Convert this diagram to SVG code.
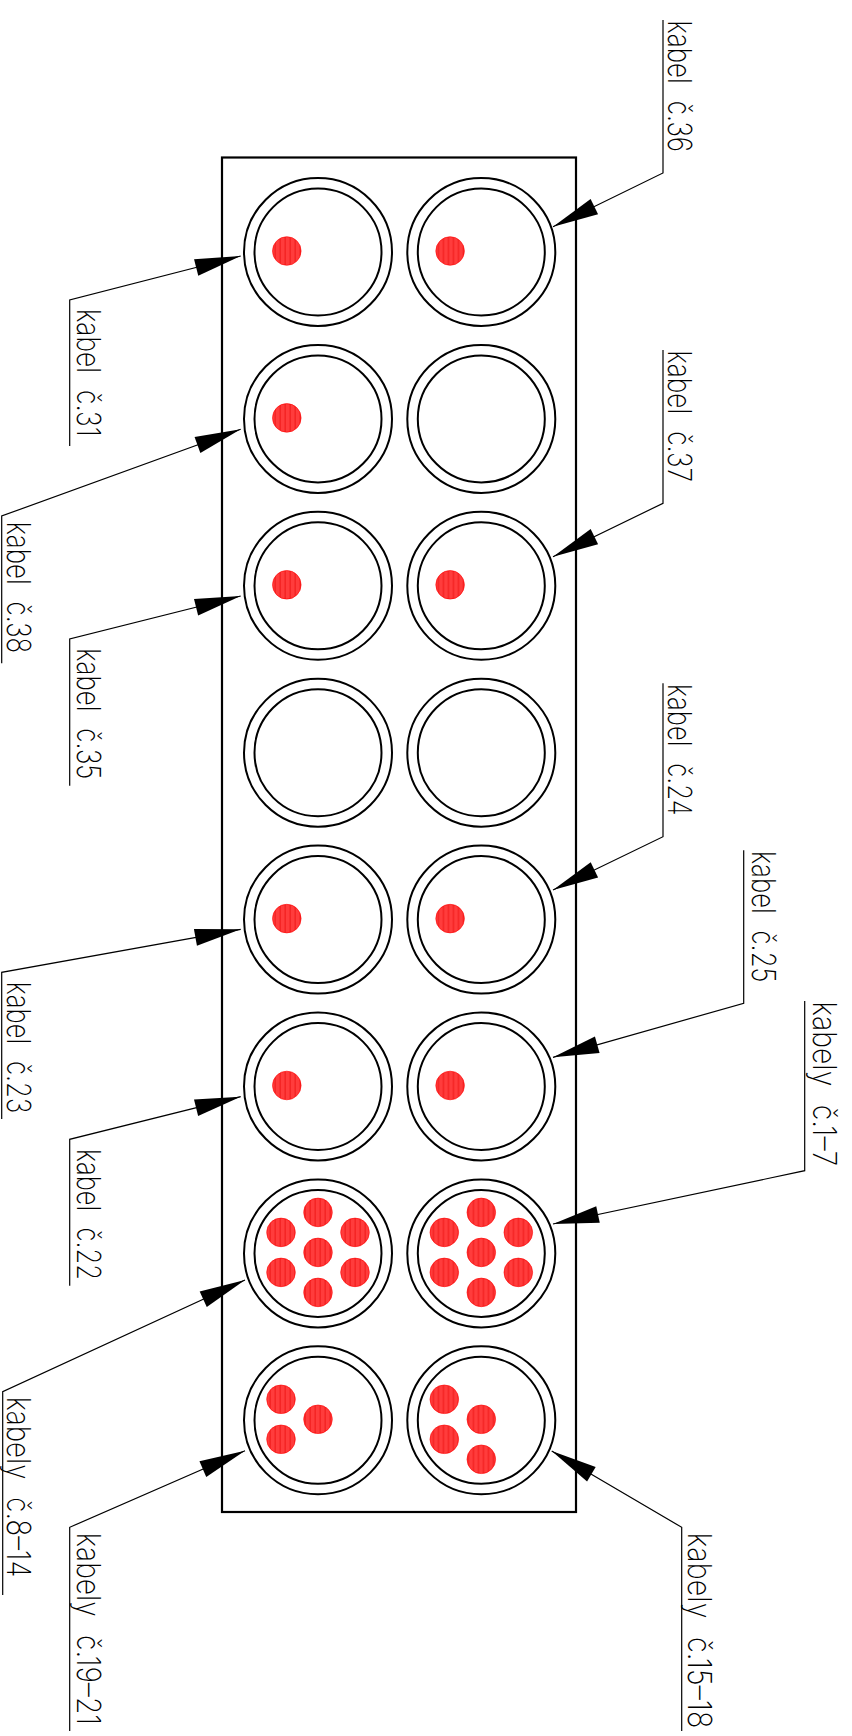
<svg xmlns="http://www.w3.org/2000/svg" width="852" height="1736" viewBox="0 0 852 1736">
<style>
.o{fill:none;stroke:#000;stroke-width:2}
.d{fill:url(#st);stroke:#f00;stroke-width:.6}
.l{fill:none;stroke:#000;stroke-width:1.2;marker-start:url(#ah)}
text{font-family:"Inter","Open Sans","Liberation Sans",sans-serif;font-weight:200;font-size:33px;word-spacing:12px;fill:#000}
</style>
<defs>
<pattern id="st" patternUnits="userSpaceOnUse" width="5" height="30"><rect width="5" height="30" fill="#ff3c3c"/><rect x="1.5" width="1.4" height="30" fill="#f42222"/></pattern>
<marker id="ah" markerUnits="userSpaceOnUse" viewBox="0 -10 48 20" markerWidth="48" markerHeight="20" refX="0" refY="0" orient="auto"><path d="M0 0L46 -8.5L46 8.5Z" fill="#000"/></marker>
<g id="ring"><circle class="o" r="74"/><circle class="o" r="63.5"/></g>
</defs>
<rect id="frame" x="222" y="157.5" width="354" height="1354.5" fill="none" stroke="#000" stroke-width="2.2"/>
<g id="cell-r1-c1" transform="translate(318 252)"><use href="#ring"/><circle class="d" cx="-31.2" cy="-1" r="14.3"/></g>
<g id="cell-r1-c2" transform="translate(481.3 252)"><use href="#ring"/><circle class="d" cx="-31.2" cy="-1" r="14.3"/></g>
<g id="cell-r2-c1" transform="translate(318 418.9)"><use href="#ring"/><circle class="d" cx="-31.2" cy="-1" r="14.3"/></g>
<g id="cell-r2-c2" transform="translate(481.3 418.9)"><use href="#ring"/></g>
<g id="cell-r3-c1" transform="translate(318 585.8)"><use href="#ring"/><circle class="d" cx="-31.2" cy="-1" r="14.3"/></g>
<g id="cell-r3-c2" transform="translate(481.3 585.8)"><use href="#ring"/><circle class="d" cx="-31.2" cy="-1" r="14.3"/></g>
<g id="cell-r4-c1" transform="translate(318 752.7)"><use href="#ring"/></g>
<g id="cell-r4-c2" transform="translate(481.3 752.7)"><use href="#ring"/></g>
<g id="cell-r5-c1" transform="translate(318 919.6)"><use href="#ring"/><circle class="d" cx="-31.2" cy="-1" r="14.3"/></g>
<g id="cell-r5-c2" transform="translate(481.3 919.6)"><use href="#ring"/><circle class="d" cx="-31.2" cy="-1" r="14.3"/></g>
<g id="cell-r6-c1" transform="translate(318 1086.5)"><use href="#ring"/><circle class="d" cx="-31.2" cy="-1" r="14.3"/></g>
<g id="cell-r6-c2" transform="translate(481.3 1086.5)"><use href="#ring"/><circle class="d" cx="-31.2" cy="-1" r="14.3"/></g>
<g id="cell-r7-c1" transform="translate(318 1253.4)"><use href="#ring"/><circle class="d" cy="-1" r="14.3"/><circle class="d" cy="-41" r="14.3"/><circle class="d" cy="39" r="14.3"/><circle class="d" cx="-37" cy="-21" r="14.3"/><circle class="d" cx="-37" cy="19" r="14.3"/><circle class="d" cx="37" cy="-21" r="14.3"/><circle class="d" cx="37" cy="19" r="14.3"/></g>
<g id="cell-r7-c2" transform="translate(481.3 1253.4)"><use href="#ring"/><circle class="d" cy="-1" r="14.3"/><circle class="d" cy="-41" r="14.3"/><circle class="d" cy="39" r="14.3"/><circle class="d" cx="-37" cy="-21" r="14.3"/><circle class="d" cx="-37" cy="19" r="14.3"/><circle class="d" cx="37" cy="-21" r="14.3"/><circle class="d" cx="37" cy="19" r="14.3"/></g>
<g id="cell-r8-c1" transform="translate(318 1420.3)"><use href="#ring"/><circle class="d" cy="-1" r="14.3"/><circle class="d" cx="-37" cy="-21" r="14.3"/><circle class="d" cx="-37" cy="19" r="14.3"/></g>
<g id="cell-r8-c2" transform="translate(481.3 1420.3)"><use href="#ring"/><circle class="d" cy="-1" r="14.3"/><circle class="d" cy="39" r="14.3"/><circle class="d" cx="-37" cy="-21" r="14.3"/><circle class="d" cx="-37" cy="19" r="14.3"/></g>
<g id="connectors">
<polyline class="l" points="553,226.7 663,173 663,20"/>
<polyline class="l" points="553,556.7 663,503.3 663,350"/>
<polyline class="l" points="553,890 663,836.7 663,683.3"/>
<polyline class="l" points="553,1057.3 743.7,1003.3 743.7,850.3"/>
<polyline class="l" points="553,1224 804.7,1170.7 804.7,1001"/>
<polyline class="l" points="551.7,1451 681.7,1527.3 681.7,1731"/>
<polyline class="l" points="240.7,256 69.7,300 69.7,446"/>
<polyline class="l" points="240.7,429.3 1.7,516 1.7,663.3"/>
<polyline class="l" points="240.7,596 69.7,639 69.7,785.7"/>
<polyline class="l" points="240.7,929.3 1.7,972.3 1.7,1119"/>
<polyline class="l" points="240.7,1096.7 69.7,1139.3 69.7,1285.7"/>
<polyline class="l" points="245,1280 2.7,1391.7 2.7,1595"/>
<polyline class="l" points="245,1450.7 69.7,1527.3 69.7,1731"/>
</g>
<g id="labels">
<text transform="translate(668 20.5) rotate(90) scale(.8 1)" textLength="164.4" lengthAdjust="spacingAndGlyphs">kabel č.36</text>
<text transform="translate(668 350.5) rotate(90) scale(.8 1)" textLength="164.4" lengthAdjust="spacingAndGlyphs">kabel č.37</text>
<text transform="translate(668 684) rotate(90) scale(.8 1)" textLength="164.4" lengthAdjust="spacingAndGlyphs">kabel č.24</text>
<text transform="translate(751.7 851) rotate(90) scale(.8 1)" textLength="164.4" lengthAdjust="spacingAndGlyphs">kabel č.25</text>
<text transform="translate(813.3 1001.5) rotate(90) scale(.8 1)" textLength="206" lengthAdjust="spacingAndGlyphs">kabely č.1–7</text>
<text transform="translate(687.7 1532.7) rotate(90) scale(.8 1)" textLength="244.4" lengthAdjust="spacingAndGlyphs">kabely č.15–18</text>
<text transform="translate(76.7 309) rotate(90) scale(.8 1)" textLength="159.6" lengthAdjust="spacingAndGlyphs">kabel č.31</text>
<text transform="translate(7.3 521.7) rotate(90) scale(.8 1)" textLength="164.4" lengthAdjust="spacingAndGlyphs">kabel č.38</text>
<text transform="translate(76.7 648.3) rotate(90) scale(.8 1)" textLength="163.8" lengthAdjust="spacingAndGlyphs">kabel č.35</text>
<text transform="translate(7.3 981.7) rotate(90) scale(.8 1)" textLength="164.4" lengthAdjust="spacingAndGlyphs">kabel č.23</text>
<text transform="translate(76.7 1149) rotate(90) scale(.8 1)" textLength="163.8" lengthAdjust="spacingAndGlyphs">kabel č.22</text>
<text transform="translate(7.3 1396.7) rotate(90) scale(.8 1)" textLength="226" lengthAdjust="spacingAndGlyphs">kabely č.8–14</text>
<text transform="translate(76.7 1532.7) rotate(90) scale(.8 1)" textLength="240.4" lengthAdjust="spacingAndGlyphs">kabely č.19–21</text>
</g>
</svg>
